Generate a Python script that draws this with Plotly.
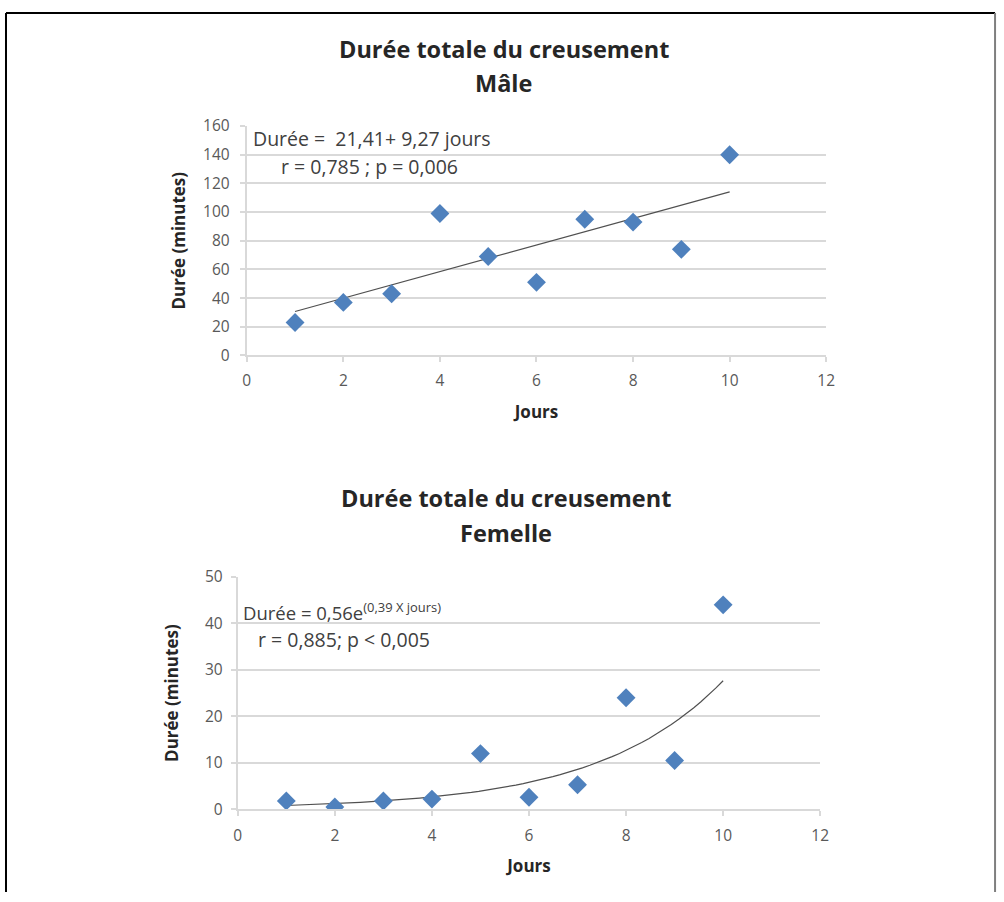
import numpy as np
import plotly.graph_objects as go

W, H = 1004, 902

jours = [1, 2, 3, 4, 5, 6, 7, 8, 9, 10]
duree_male = [23, 37, 43, 99, 69, 51, 95, 93, 74, 140]
duree_femelle = [1.8, 0.5, 1.8, 2.2, 12, 2.6, 5.3, 24, 10.5, 44]

# Trend coefficients shown on the chart
male_a, male_b = 21.41, 9.27
fem_a, fem_b = 0.56, 0.39

x_ticks = [0, 2, 4, 6, 8, 10, 12]
y_ticks_male = [0, 20, 40, 60, 80, 100, 120, 140, 160]
y_ticks_fem = [0, 10, 20, 30, 40, 50]

FONT = "Open Sans"
BLUE = "#4F81BD"
GRID = "#D9D9D9"
TICK = "#595959"

# layout positions are given in target-pixel coordinates and mapped to paper
SX, OX = 0.988, 3.0
SY, OY = 0.978, 10.7

def px(x):
    return ((x - OX) / SX) / W

def py(y):
    return 1 - ((y - OY) / SY) / H

fig = go.Figure()

xt = np.linspace(1, 10, 60)

fig.add_trace(go.Scatter(x=[1, 10], y=[male_a + male_b * 1, male_a + male_b * 10],
                         mode="lines", line=dict(color="#505050", width=1.2),
                         xaxis="x", yaxis="y", showlegend=False))
fig.add_trace(go.Scatter(x=jours, y=duree_male, mode="markers",
                         marker=dict(symbol="diamond", size=14.5, color=BLUE),
                         xaxis="x", yaxis="y", showlegend=False))
fig.add_trace(go.Scatter(x=xt, y=fem_a * np.exp(fem_b * xt),
                         mode="lines", line=dict(color="#505050", width=1.2),
                         xaxis="x2", yaxis="y2", showlegend=False))
fig.add_trace(go.Scatter(x=jours, y=duree_femelle, mode="markers",
                         marker=dict(symbol="diamond", size=14.5, color=BLUE),
                         xaxis="x2", yaxis="y2", showlegend=False))

axis_common = dict(showline=True, linecolor=GRID, linewidth=2, ticks="outside",
                   ticklen=5, tickcolor=GRID, tickwidth=2,
                   tickfont=dict(family=FONT, size=15.5, color=TICK), zeroline=False)
title_font = dict(family=FONT, size=17, color="#262626")

fig.update_layout(
    width=W, height=H,
    margin=dict(l=0, r=0, t=0, b=0),
    paper_bgcolor="white", plot_bgcolor="white",
    xaxis=dict(domain=[px(246), px(826)], range=[0, 12], tickvals=x_ticks,
               showgrid=False, anchor="y", ticklabelstandoff=5,
               title=dict(text="<b>Jours</b>", font=title_font, standoff=16),
               **axis_common),
    yaxis=dict(domain=[py(355), py(125)], range=[0, 160], tickvals=y_ticks_male,
               showgrid=True, gridcolor=GRID, gridwidth=2, anchor="x", ticklabelstandoff=7,
               title=dict(text="<b>Durée (minutes)</b>", font=title_font, standoff=13),
               **axis_common),
    xaxis2=dict(domain=[px(237), px(820)], range=[0, 12], tickvals=x_ticks,
                showgrid=False, anchor="y2", ticklabelstandoff=6,
                title=dict(text="<b>Jours</b>", font=title_font, standoff=15),
                **axis_common),
    yaxis2=dict(domain=[py(810), py(577)], range=[0, 50], tickvals=y_ticks_fem,
                showgrid=True, gridcolor=GRID, gridwidth=2, anchor="x2", ticklabelstandoff=5,
                title=dict(text="<b>Durée (minutes)</b>", font=title_font, standoff=22),
                **axis_common),
)

ann = []
def add_text(text, x, y, size, bold=False, color="#262626", xanchor="center"):
    ann.append(dict(text=("<b>%s</b>" % text) if bold else text, x=px(x), y=py(y),
                    xref="paper", yref="paper", showarrow=False, xanchor=xanchor,
                    yanchor="middle", font=dict(family=FONT, size=size, color=color)))

add_text("Durée totale du creusement", 503, 48, 23.5, bold=True)
add_text("Mâle", 503, 82, 23.5, bold=True)
add_text("Durée totale du creusement", 505, 498, 23.5, bold=True)
add_text("Femelle", 505, 533, 23.5, bold=True)

add_text("Durée =  21,41+ 9,27 jours", 250, 138, 19.5, color="#404040", xanchor="left")
add_text("r = 0,785 ; p = 0,006", 278, 166, 19.5, color="#404040", xanchor="left")
add_text("Durée = 0,56e<sup>(0,39 X jours)</sup>", 240, 612, 18.5, color="#404040", xanchor="left")
add_text("r = 0,885; p < 0,005", 255, 640, 19.5, color="#404040", xanchor="left")

fig.update_layout(annotations=ann)

top = py(11.8)
fig.update_layout(shapes=[
    dict(type="line", xref="paper", yref="paper", x0=px(5), x1=px(5), y0=0, y1=top,
         line=dict(color="black", width=2)),
    dict(type="line", xref="paper", yref="paper", x0=px(5), x1=px(995), y0=top, y1=top,
         line=dict(color="black", width=2)),
    dict(type="line", xref="paper", yref="paper", x0=px(995), x1=px(995), y0=0, y1=top,
         line=dict(color="#7f7f7f", width=2)),
])

fig.write_html(
    "out.html",
    config={"displayModeBar": False},
    post_script=(
        "document.body.style.margin='0';document.body.style.overflow='hidden';"
        "var d=document.getElementById('{plot_id}');"
        "d.style.position='fixed';d.style.top='0px';d.style.left='0px';"
    ),
)
